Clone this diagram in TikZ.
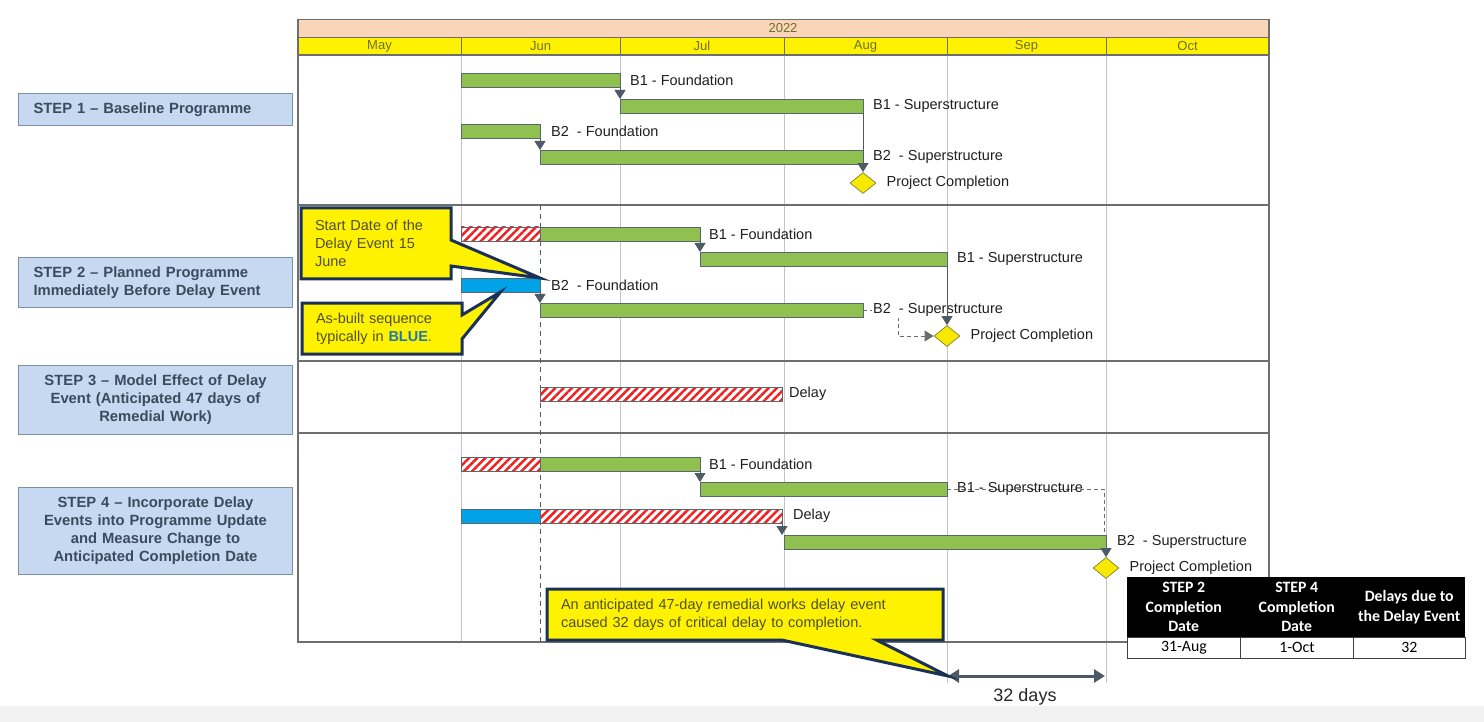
\documentclass[tikz,border=0pt]{standalone}
\usepackage{fontspec}
\setmainfont{Liberation Sans}
\newfontfamily\tabfont{Carlito}
\usetikzlibrary{arrows.meta,shapes.geometric,shapes.callouts,patterns.meta,calc}
\definecolor{gbar}{HTML}{90C050}
\definecolor{barline}{HTML}{5A6670}
\definecolor{bbar}{HTML}{00A2E8}
\definecolor{hred}{HTML}{EE2222}
\definecolor{msfill}{HTML}{F7EA00}
\definecolor{msline}{HTML}{8F8A3A}
\definecolor{arrowc}{HTML}{4E5A66}
\definecolor{peach}{HTML}{FBD5B8}
\definecolor{hyellow}{HTML}{FFF200}
\definecolor{hdtext}{HTML}{6E6E2E}
\definecolor{frameline}{HTML}{6E6E6E}
\definecolor{gridc}{HTML}{C4C4C4}
\definecolor{stepfill}{HTML}{C6D9F1}
\definecolor{stepline}{HTML}{7D8FA8}
\definecolor{steptext}{HTML}{3C4A5E}
\definecolor{calfill}{HTML}{FFF200}
\definecolor{calline}{HTML}{1B3157}
\definecolor{caltext}{HTML}{4F4F30}
\definecolor{bluetext}{HTML}{1E7AA8}
\newcommand\lblfont{\fontsize{14.5}{18}\selectfont}
\newcommand\hdfont{\fontsize{13}{15}\selectfont}
\newcommand\stepfont{\fontsize{14.8}{18}\selectfont\bfseries}
\newcommand\tabhfont{\tabfont\fontsize{15.8}{19.5}\selectfont\bfseries}
\newcommand\tabbfont{\tabfont\fontsize{15.8}{19}\selectfont}
\begin{document}
\begin{tikzpicture}[x=1pt,y=-1pt,
 gantbar/.style={draw=barline, line width=0.9pt, minimum height=14pt, inner sep=0pt, outer sep=0pt, anchor=north west},
 greenbar/.style={gantbar, fill=gbar},
 bluebar/.style={gantbar, fill=bbar},
 hatchbar/.style={gantbar, preaction={fill=white}, pattern={Lines[angle=45,distance=5.8pt,line width=2.5pt]}, pattern color=hred},
 lbl/.style={anchor=west, inner sep=0pt, font=\lblfont, text=black!88},
 dep/.style={draw=arrowc, line width=1pt, -{Triangle[width=11pt,length=9pt]}},
 dashdep/.style={draw=gray!85!black, line width=0.9pt, dash pattern=on 4pt off 3pt},
 milestone/.style={diamond, draw=msline, fill=msfill, minimum width=26pt, minimum height=21pt, inner sep=0pt, line width=0.8pt},
 stepbox/.style={draw=stepline, fill=stepfill, line width=1pt, font=\stepfont, text=steptext, minimum width=274pt, inner xsep=15pt, inner ysep=0pt, text width=244pt, anchor=north west},
 callbox/.style={rectangle callout, draw=calline, fill=calfill, line width=3pt, font=\lblfont, text=caltext, align=left, inner xsep=14pt, inner ysep=0pt},
 thead/.style={fill=black, text=white, font=\tabhfont, minimum width=113pt, minimum height=60pt, inner sep=0pt, align=center, anchor=north west},
 tbody/.style={draw=black!75, fill=white, font=\tabbfont, minimum width=113pt, minimum height=21pt, inner sep=0pt, anchor=north west, line width=0.8pt},
 hdtxt/.style={font=\hdfont, text=hdtext, inner sep=0pt},
]
\useasboundingbox (0,0) rectangle (1484,722);
\fill[black!5] (0,706) rectangle (1484,722);
% header
\fill[peach] (298,19) rectangle (1269,37);
\fill[hyellow] (298,37) rectangle (1269,55);
\draw[frameline, line width=0.8pt] (298,19) rectangle (1269,37);
\draw[frameline, line width=0.8pt] (298,37) rectangle (1269,55);
\foreach \x in {461,620,784,947,1106} {
  \draw[frameline, line width=0.8pt] (\x,37) -- (\x,55);
  \draw[gridc, line width=0.9pt] (\x,55) -- (\x,642);
}
\foreach \x in {947,1106} \draw[gridc, line width=0.9pt] (\x,642) -- (\x,683);
\foreach \y in {55,205,361,433} \draw[frameline, line width=1.3pt] (298,\y) -- (1269,\y);
\draw[frameline, line width=1.3pt] (1269,19) -- (1269,577);
\draw[frameline, line width=1.3pt] (298,19) -- (298,642) -- (1127,642);
\draw[arrowc, line width=1pt, dash pattern=on 5pt off 4pt] (540,205) -- (540,642);
\node[hdtxt] (yr) at (783,28) {2022};
\node[hdtxt] (mmay) at (379.5,46) {May};
\node[hdtxt] (mjun) at (540.5,46) {Jun};
\node[hdtxt] (mjul) at (702,46) {Jul};
\node[hdtxt] (maug) at (865.5,46) {Aug};
\node[hdtxt] (msep) at (1026.5,46) {Sep};
\node[hdtxt] (moct) at (1187.5,46) {Oct};
% step labels
\node[stepbox, minimum height=32pt, align=left] (st1) at (18,93) {STEP 1 -- Baseline Programme};
\node[stepbox, minimum height=50pt, align=left] (st2) at (18,257) {STEP 2 -- Planned Programme\\Immediately Before Delay Event};
\node[stepbox, minimum height=69pt, align=center] (st3) at (18,365) {STEP 3 -- Model Effect of Delay\\Event (Anticipated 47 days of\\Remedial Work)};
\node[stepbox, minimum height=87pt, align=center] (st4) at (18,487) {STEP 4 -- Incorporate Delay\\Events into Programme Update\\and Measure Change to\\Anticipated Completion Date};
% ---- step 1
\node[greenbar, minimum width=159pt] (s1b1f) at (461,73) {};
\node[greenbar, minimum width=243pt] (s1b1s) at (620,99) {};
\node[greenbar, minimum width=79pt] (s1b2f) at (461,124) {};
\node[greenbar, minimum width=323pt] (s1b2s) at (540,150) {};
\node[milestone] (s1pc) at (863,183) {};
\draw[dep] (s1b1f.south east) -- (s1b1f.south east |- s1b1s.north);
\draw[dep] (s1b2f.south east) -- (s1b2f.south east |- s1b2s.north);
\draw[dep] (s1b1s.south east) -- (s1pc.north);
\node[lbl] (l1a) at ($(s1b1f.east)+(10,0)$) {B1 - Foundation};
\node[lbl] (l1b) at ($(s1b1s.east)+(10,0)$) {B1 - Superstructure};
\node[lbl] (l1c) at ($(s1b2f.east)+(11,0)$) {B2~ - Foundation};
\node[lbl] (l1d) at ($(s1b2s.east)+(10,0)$) {B2~ - Superstructure};
\node[lbl] (l1e) at ($(s1pc.east)+(10,0)$) {Project Completion};
% ---- step 2
\node[hatchbar, minimum width=79pt] (s2dh) at (461,227) {};
\node[greenbar, minimum width=160pt] (s2b1f) at (540,227) {};
\node[greenbar, minimum width=247pt] (s2b1s) at (700,252) {};
\node[bluebar, minimum width=79pt] (s2bl) at (461,278) {};
\node[greenbar, minimum width=323pt] (s2b2s) at (540,303) {};
\node[milestone] (s2pc) at (947,336) {};
\draw[dep] (s2b1f.south east) -- (s2b1f.south east |- s2b1s.north);
\draw[dep] (s2bl.south east) -- (s2bl.south east |- s2b2s.north);
\draw[dashdep, -{Triangle[width=11pt,length=9pt]}] (s2b2s.east) -- ++(35,0) |- (s2pc.west);
\node[lbl] (l2a) at ($(s2b1f.east)+(9,0)$) {B1 - Foundation};
\node[lbl] (l2b) at ($(s2b1s.east)+(10,0)$) {B1 - Superstructure};
\node[lbl] (l2c) at ($(s2bl.east)+(11,0)$) {B2~ - Foundation};
\node[lbl, fill=white, inner sep=1pt] (l2d) at ($(s2b2s.east)+(9,0)$) {B2~ - Superstructure};
\node[lbl] (l2e) at ($(s2pc.east)+(10,0)$) {Project Completion};
\draw[dep] (s2b1s.south east) -- (s2pc.north);
% ---- step 3
\node[hatchbar, minimum width=242pt] (s3dl) at (540,387) {};
\node[lbl] (l3a) at ($(s3dl.east)+(7,0)$) {Delay};
% ---- step 4
\node[hatchbar, minimum width=79pt] (s4dh) at (461,457) {};
\node[greenbar, minimum width=160pt] (s4b1f) at (540,457) {};
\node[greenbar, minimum width=247pt] (s4b1s) at (700,482) {};
\node[bluebar, minimum width=79pt] (s4bl) at (461,509) {};
\node[hatchbar, minimum width=242pt] (s4dl) at (540,509) {};
\node[greenbar, minimum width=322pt] (s4b2s) at (784,535) {};
\node[milestone] (s4pc) at (1106,568) {};
\draw[dep] (s4b1f.south east) -- (s4b1f.south east |- s4b1s.north);
\draw[dep] (s4dl.south east) -- (s4dl.south east |- s4b2s.north);
\draw[dep] (s4b2s.south east) -- (s4pc.north);
\draw[dashdep] (s4b1s.east) -| ($(s4b2s.north east)+(-2,0)$);
\node[lbl] (l4a) at ($(s4b1f.east)+(9,0)$) {B1 - Foundation};
\node[lbl] (l4b) at ($(s4b1s.east)+(10,0)$) {B1 - Superstructure};
\node[lbl] (l4c) at ($(s4dl.east)+(11,0)$) {Delay};
\node[lbl] (l4d) at ($(s4b2s.east)+(11,0)$) {B2~ - Superstructure};
\node[lbl] (l4e) at ($(s4pc.east)+(10,0)$) {Project Completion};
% 32 days
\coordinate (d32a) at (948,676);
\coordinate (d32b) at (1105,676);
\draw[draw=arrowc, line width=3pt, {Triangle[width=13pt,length=11pt]}-{Triangle[width=13pt,length=11pt]}] (d32a) -- (d32b);
\node[font=\fontsize{18}{20}\selectfont, text=black!85, inner sep=0pt] (d32t) at (1025,697) {32 days};
% callouts
\node[callbox, text width=122pt, minimum height=71pt, callout absolute pointer={(s2bl.north east)}, callout pointer width=26pt] (c1) at (376,243.5) {Start Date of the\\Delay Event 15\\June};
\node[callbox, text width=132pt, minimum height=51pt, callout absolute pointer={(s2bl.south)}, callout pointer width=24pt] (c2) at (382,328.5) {As-built sequence\\typically in \textcolor{bluetext}{\textbf{BLUE}}.};
\node[callbox, text width=368pt, minimum height=51pt, callout absolute pointer={(d32a)}, callout pointer width=95pt] (c3) at (745,614.5) {An anticipated 47-day remedial works delay event\\caused 32 days of critical delay to completion.};
% table
\node[thead] (t1) at (1127,577) {STEP 2\\Completion\\Date};
\node[thead] (t2) at (1240,577) {STEP 4\\Completion\\Date};
\node[thead, minimum width=112pt] (t3) at (1353,577) {Delays due to\\the Delay Event};
\node[tbody] (tb1) at (1127,637) {31-Aug};
\node[tbody] (tb2) at (1240,637) {1-Oct};
\node[tbody, minimum width=112pt] (tb3) at (1353,637) {32};
\end{tikzpicture}
\end{document}
